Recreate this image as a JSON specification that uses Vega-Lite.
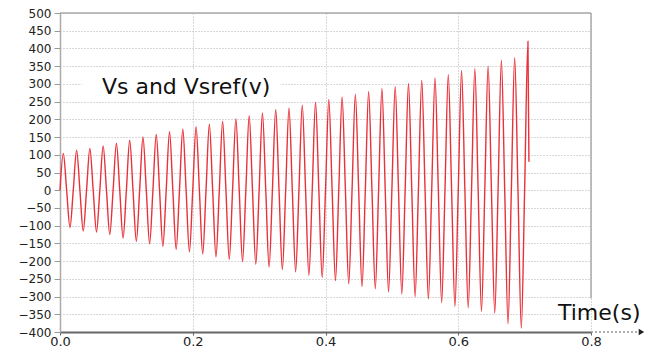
{
  "$schema": "https://vega.github.io/schema/vega-lite/v6.json",
  "width": 531,
  "height": 319,
  "autosize": {"type": "none"},
  "padding": {"left": 60, "top": 13, "right": 67, "bottom": 17},
  "background": "white",
  "config": {
    "view": {"stroke": null},
    "font": "DejaVu Sans",
    "axisX": {
      "tickCount": 4, "format": ".1f", "labelOverlap": false,
      "grid": true, "gridDash": [1, 2], "gridColor": "#b0b0b0", "gridWidth": 1,
      "domainColor": "#666", "domainWidth": 2,
      "tickColor": "#666", "tickSize": 3,
      "labelFontSize": 13, "labelColor": "#222", "labelPadding": 0, "labelFlush": false
    },
    "axisY": {
      "tickCount": 18, "labelOverlap": false,
      "grid": true, "gridDash": [1, 2], "gridColor": "#b0b0b0", "gridWidth": 1,
      "domainColor": "#aaa", "domainWidth": 1.5,
      "tickColor": "#999", "tickSize": 6,
      "labelFontSize": 12, "labelColor": "#222", "labelPadding": 3
    }
  },
  "datasets": {
    "signal": [
      {"t":0,"v":0},{"t":0.005,"v":104},{"t":0.01,"v":0},{"t":0.015,"v":-105},
      {"t":0.02,"v":0},{"t":0.025,"v":113},{"t":0.03,"v":0},{"t":0.035,"v":-115},
      {"t":0.04,"v":0},{"t":0.045,"v":118},{"t":0.05,"v":0},{"t":0.055,"v":-118},
      {"t":0.06,"v":0},{"t":0.065,"v":125},{"t":0.07,"v":0},{"t":0.075,"v":-125},
      {"t":0.08,"v":0},{"t":0.085,"v":133},{"t":0.09,"v":0},{"t":0.095,"v":-135},
      {"t":0.1,"v":0},{"t":0.105,"v":141},{"t":0.11,"v":0},{"t":0.115,"v":-144},
      {"t":0.12,"v":0},{"t":0.125,"v":150},{"t":0.13,"v":0},{"t":0.135,"v":-151},
      {"t":0.14,"v":0},{"t":0.145,"v":157},{"t":0.15,"v":0},{"t":0.155,"v":-158},
      {"t":0.16,"v":0},{"t":0.165,"v":165},{"t":0.17,"v":0},{"t":0.175,"v":-167},
      {"t":0.18,"v":0},{"t":0.185,"v":172},{"t":0.19,"v":0},{"t":0.195,"v":-174},
      {"t":0.2,"v":0},{"t":0.205,"v":179},{"t":0.21,"v":0},{"t":0.215,"v":-180},
      {"t":0.22,"v":0},{"t":0.225,"v":186},{"t":0.23,"v":0},{"t":0.235,"v":-188},
      {"t":0.24,"v":0},{"t":0.245,"v":195},{"t":0.25,"v":0},{"t":0.255,"v":-195},
      {"t":0.26,"v":0},{"t":0.265,"v":202},{"t":0.27,"v":0},{"t":0.275,"v":-201},
      {"t":0.28,"v":0},{"t":0.285,"v":210},{"t":0.29,"v":0},{"t":0.295,"v":-209},
      {"t":0.3,"v":0},{"t":0.305,"v":218},{"t":0.31,"v":0},{"t":0.315,"v":-217},
      {"t":0.32,"v":0},{"t":0.325,"v":228},{"t":0.33,"v":0},{"t":0.335,"v":-224},
      {"t":0.34,"v":0},{"t":0.345,"v":232},{"t":0.35,"v":0},{"t":0.355,"v":-230},
      {"t":0.36,"v":0},{"t":0.365,"v":240},{"t":0.37,"v":0},{"t":0.375,"v":-240},
      {"t":0.38,"v":0},{"t":0.385,"v":248},{"t":0.39,"v":0},{"t":0.395,"v":-246},
      {"t":0.4,"v":0},{"t":0.405,"v":256},{"t":0.41,"v":0},{"t":0.415,"v":-255},
      {"t":0.42,"v":0},{"t":0.425,"v":263},{"t":0.43,"v":0},{"t":0.435,"v":-264},
      {"t":0.44,"v":0},{"t":0.445,"v":271},{"t":0.45,"v":0},{"t":0.455,"v":-272},
      {"t":0.46,"v":0},{"t":0.465,"v":279},{"t":0.47,"v":0},{"t":0.475,"v":-278},
      {"t":0.48,"v":0},{"t":0.485,"v":287},{"t":0.49,"v":0},{"t":0.495,"v":-287},
      {"t":0.5,"v":0},{"t":0.505,"v":293},{"t":0.51,"v":0},{"t":0.515,"v":-293},
      {"t":0.52,"v":0},{"t":0.525,"v":301},{"t":0.53,"v":0},{"t":0.535,"v":-300},
      {"t":0.54,"v":0},{"t":0.545,"v":310},{"t":0.55,"v":0},{"t":0.555,"v":-307},
      {"t":0.56,"v":0},{"t":0.565,"v":317},{"t":0.57,"v":0},{"t":0.575,"v":-317},
      {"t":0.58,"v":0},{"t":0.585,"v":326},{"t":0.59,"v":0},{"t":0.595,"v":-328},
      {"t":0.6,"v":0},{"t":0.605,"v":337},{"t":0.61,"v":0},{"t":0.615,"v":-332},
      {"t":0.62,"v":0},{"t":0.625,"v":343},{"t":0.63,"v":0},{"t":0.635,"v":-342},
      {"t":0.64,"v":0},{"t":0.645,"v":350},{"t":0.65,"v":0},{"t":0.655,"v":-347},
      {"t":0.66,"v":0},{"t":0.665,"v":367},{"t":0.67,"v":0},{"t":0.675,"v":-377},
      {"t":0.68,"v":0},{"t":0.685,"v":374},{"t":0.69,"v":0},{"t":0.695,"v":-389},
      {"t":0.7,"v":0},{"t":0.705,"v":420},{"t":0.7065,"v":80}
    ],
    "box": [{"t0":0.033,"t1":0.332,"v0":254,"v1":339}],
    "frame": [
      {"t0":0,"t1":0.8,"v0":500,"v1":500},
      {"t0":0.8,"t1":0.8,"v0":-305,"v1":500}
    ],
    "ext": [{"t0":0.8,"t1":0.872,"v0":-400,"v1":-400}],
    "arrow": [{"t":0.876,"v":-400}],
    "labels": [
      {"t":0.19,"v":291,"label":"Vs and Vsref(v)"},
      {"t":0.8124,"v":-347,"label":"Time(s)"}
    ]
  },
  "layer": [
    {
      "data": {"name": "box"},
      "mark": {"type": "rect", "color": "white"},
      "encoding": {
        "x": {
          "field": "t0", "type": "quantitative",
          "scale": {"domain": [0, 0.8], "nice": false, "zero": false},
          "title": null
        },
        "x2": {"field": "t1"},
        "y": {
          "field": "v0", "type": "quantitative",
          "scale": {"domain": [-400, 500], "nice": false, "zero": false},
          "title": null
        },
        "y2": {"field": "v1"}
      }
    },
    {
      "data": {"name": "frame"},
      "mark": {"type": "rule", "color": "#aaa", "strokeWidth": 1.5},
      "encoding": {
        "x": {"field": "t0", "type": "quantitative", "title": null},
        "x2": {"field": "t1"},
        "y": {"field": "v0", "type": "quantitative", "title": null},
        "y2": {"field": "v1"}
      }
    },
    {
      "data": {"name": "ext"},
      "mark": {"type": "rule", "color": "#999", "strokeWidth": 1.5, "strokeDash": [2, 2]},
      "encoding": {
        "x": {"field": "t0", "type": "quantitative", "title": null},
        "x2": {"field": "t1"},
        "y": {"field": "v0", "type": "quantitative", "title": null}
      }
    },
    {
      "data": {"name": "arrow"},
      "mark": {"type": "point", "shape": "triangle-right", "filled": true, "color": "#222", "size": 40, "opacity": 1},
      "encoding": {
        "x": {"field": "t", "type": "quantitative", "title": null},
        "y": {"field": "v", "type": "quantitative", "title": null}
      }
    },
    {
      "data": {"name": "signal"},
      "mark": {"type": "line", "interpolate": "monotone", "color": "#e8323a", "strokeWidth": 1.4},
      "encoding": {
        "x": {"field": "t", "type": "quantitative", "title": null},
        "y": {"field": "v", "type": "quantitative", "title": null}
      }
    },
    {
      "data": {"name": "labels"},
      "mark": {"type": "text", "fontSize": 22, "color": "#111", "align": "center", "baseline": "middle", "font": "DejaVu Sans"},
      "encoding": {
        "x": {"field": "t", "type": "quantitative", "title": null},
        "y": {"field": "v", "type": "quantitative", "title": null},
        "text": {"field": "label"}
      }
    }
  ]
}
